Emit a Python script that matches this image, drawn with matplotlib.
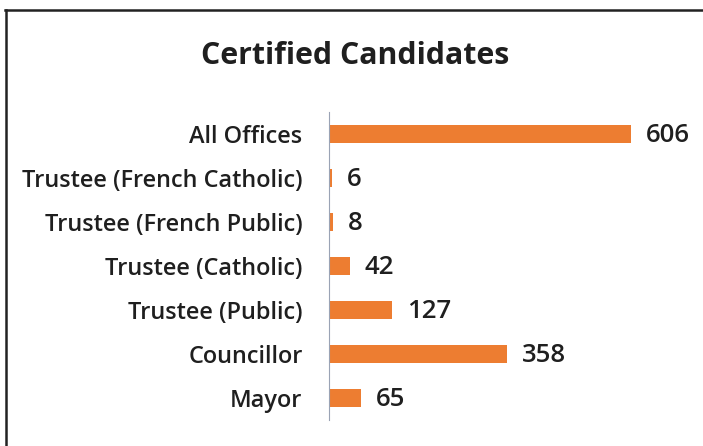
import matplotlib.pyplot as plt
from matplotlib.lines import Line2D

categories = [
    "Mayor",
    "Councillor",
    "Trustee (Public)",
    "Trustee (Catholic)",
    "Trustee (French Public)",
    "Trustee (French Catholic)",
    "All Offices",
]
counts = [65, 358, 127, 42, 8, 6, 606]

W, H = 703, 446
fig = plt.figure(figsize=(W / 100, H / 100), dpi=100)
fig.patch.set_facecolor("white")

# scanned frame: top and left edges only
fig.add_artist(Line2D([5 / W, 1], [1 - 10 / H, 1 - 10 / H], transform=fig.transFigure,
                      color="#222222", linewidth=1.8))
fig.add_artist(Line2D([6 / W, 6 / W], [0, 1 - 10 / H], transform=fig.transFigure,
                      color="#222222", linewidth=1.8))

ax = fig.add_axes([329 / W, 26 / H, 350 / W, 308 / H])
ax.barh(range(len(categories)), counts, height=0.39, color="#ED7D31")
ax.set_xlim(0, 703)
ax.set_ylim(-0.5, len(categories) - 0.5)

for i, v in enumerate(counts):
    ax.annotate(str(v), (v, i), xytext=(15, -2), textcoords="offset pixels",
                ha="left", va="center", fontsize=18.5, family="Open Sans",
                fontweight="semibold", color="#1f1f1f")

ax.set_yticks(range(len(categories)))
ax.set_yticklabels(categories, family="Open Sans", fontweight="semibold",
                   fontsize=16.9, color="#1f1f1f")
ax.tick_params(axis="y", length=0, pad=19)
ax.set_xticks([])
for side in ["top", "right", "bottom"]:
    ax.spines[side].set_visible(False)
ax.spines["left"].set_color("#9aa3b5")
ax.spines["left"].set_linewidth(0.8)

fig.text(355 / W, 1 - 56 / H, "Certified Candidates", ha="center", va="center",
         fontsize=21.8, fontweight="bold", family="Open Sans", color="#1f1f1f")

fig.savefig("out.png", dpi=100)
